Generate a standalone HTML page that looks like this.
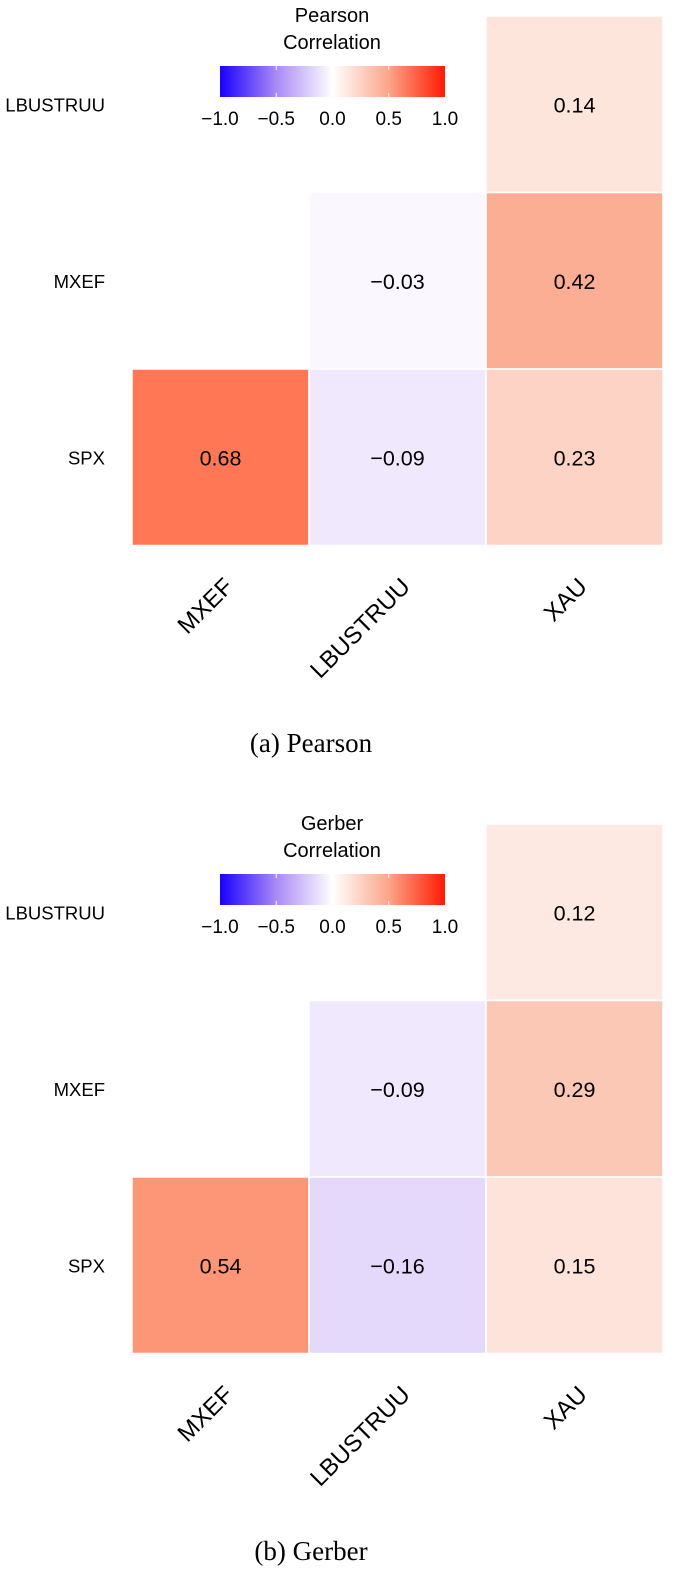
<!DOCTYPE html>
<html><head><meta charset="utf-8"><style>
html,body{margin:0;padding:0;background:#fff;width:685px;height:1582px;overflow:hidden}
svg{display:block;font-family:"Liberation Sans",Arial,sans-serif}
</style></head><body>
<svg id="chart" width="685" height="1582" viewBox="0 0 685 1582" xmlns="http://www.w3.org/2000/svg">
<defs>
<linearGradient id="cb" x1="0" x2="1" y1="0" y2="0">
<stop offset="0" stop-color="#1a00ff"/><stop offset="0.25" stop-color="#a98af5"/>
<stop offset="0.5" stop-color="#ffffff"/><stop offset="0.75" stop-color="#fca58a"/>
<stop offset="1" stop-color="#ff1a00"/></linearGradient>
</defs>
</svg>
<script>
const xCats=["MXEF","LBUSTRUU","XAU"];
const yCats=["LBUSTRUU","MXEF","SPX"];
const pearsonVals=[[null,null,0.14],[null,-0.03,0.42],[0.68,-0.09,0.23]];
const gerberVals=[[null,null,0.12],[null,-0.09,0.29],[0.54,-0.16,0.15]];
const cbTicks=[-1.0,-0.5,0.0,0.5,1.0];
const titles=["Pearson","Gerber"];
const captions=["(a)  Pearson","(b)  Gerber"];
const svg=document.getElementById('chart');
const NS="http://www.w3.org/2000/svg";
function mk(t,a,p){const e=document.createElementNS(NS,t);for(const k in a)e.setAttribute(k,a[k]);(p||svg).appendChild(e);return e;}
const stops=[[-1,[26,0,255]],[-0.5,[169,138,245]],[-0.16,[228,216,251]],[0,[255,255,255]],[0.14,[253,229,220]],[0.42,[252,174,149]],[0.68,[255,119,85]],[1,[255,26,0]]];
function color(v){for(let i=0;i<stops.length-1;i++){const[a,ca]=stops[i],[b,cb]=stops[i+1];if(v>=a&&v<=b){const t=(v-a)/(b-a);return 'rgb('+ca.map((c,j)=>Math.round(c+(cb[j]-c)*t)).join(',')+')';}}return '#fff';}
const x0=132,cw=177,ch=176.5;
function xs(i){return x0+i*cw;}
function cbx(v){return 220+(v+1)/2*225;}
[pearsonVals,gerberVals].forEach((vals,p)=>{
  const oy=p*808, y0=16+oy;
  const g=mk('g',{});
  
  
  vals.forEach((row,r)=>row.forEach((v,c)=>{
    if(v===null)return;
    const rc=mk('rect',{x:xs(c),y:y0+r*ch,width:cw,height:ch,fill:color(v),stroke:'#fff','stroke-width':1.5},g);
    
    
    const t=mk('text',{x:xs(c)+cw/2,y:y0+r*ch+ch/2+8,'text-anchor':'middle','font-size':21.5,fill:'#000'},g);
    t.textContent=(v<0?'\u2212':'')+Math.abs(v).toFixed(2);
    
    
  }));
  yCats.forEach((n,r)=>{
    const t=mk('text',{x:105,y:y0+r*ch+ch/2+7,'text-anchor':'end','font-size':18.5},g);
    t.textContent=n;
    
    
  });
  xCats.forEach((n,c)=>{
    const ax=xs(c)+cw/2+14, ay=588+oy;
    const t=mk('text',{x:ax,y:ay,'text-anchor':'end','font-size':24,transform:'rotate(-45 '+ax+' '+ay+')'},g);
    t.textContent=n;
    
    
  });
  const t1=mk('text',{x:332,y:22+oy,'text-anchor':'middle','font-size':20},g);t1.textContent=titles[p];
  
  
  const t2=mk('text',{x:332,y:49+oy,'text-anchor':'middle','font-size':20},g);t2.textContent='Correlation';
  
  
  const bar=mk('rect',{x:220,y:66+oy,width:225,height:31,fill:'url(#cb)'},g);
  
  
  cbTicks.forEach(v=>{
    if(v>-1&&v<1){const l=mk('line',{x1:cbx(v),x2:cbx(v),y1:66+oy,y2:70+oy,stroke:'#fff','stroke-width':1},g);
      
      const l2=mk('line',{x1:cbx(v),x2:cbx(v),y1:93+oy,y2:97+oy,stroke:'#fff','stroke-width':1},g);
      }
    const tt=mk('text',{x:cbx(v),y:125+oy,'text-anchor':'middle','font-size':19},g);
    tt.textContent=(v<0?'\u2212':'')+Math.abs(v).toFixed(1);
    
    
  });
  const cap=mk('text',{x:311,y:752+oy,'text-anchor':'middle','font-size':27,'font-family':'"Liberation Serif",serif'},g);
  cap.textContent=captions[p];
  
  
});
</script>
</body></html>
